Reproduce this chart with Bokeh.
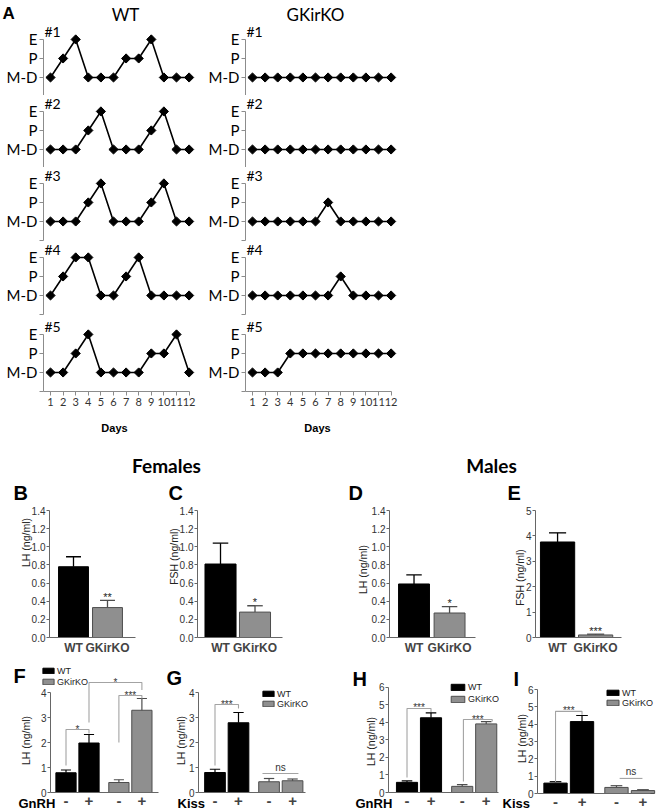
import numpy as np
from bokeh.plotting import figure
from bokeh.layouts import row, column
from bokeh.models import (Label, Range1d, FixedTicker, Legend, LegendItem,
                          NumeralTickFormatter)
from bokeh.core.properties import value
from bokeh.embed import file_html
from bokeh.resources import INLINE

# ---------------- data ----------------
days = [1, 2, 3, 4, 5, 6, 7, 8, 9, 10, 11, 12]
stage_ticks = [-1, 0, 1, 2]
stage_labels = ["", "M-D", "P", "E"]
mouse_ids = ["#1", "#2", "#3", "#4", "#5"]

wt_mouse_1 = [0, 1, 2, 0, 0, 0, 1, 1, 2, 0, 0, 0]
wt_mouse_2 = [0, 0, 0, 1, 2, 0, 0, 0, 1, 2, 0, 0]
wt_mouse_3 = [0, 0, 0, 1, 2, 0, 0, 0, 1, 2, 0, 0]
wt_mouse_4 = [0, 1, 2, 2, 0, 0, 1, 2, 0, 0, 0, 0]
wt_mouse_5 = [0, 0, 1, 2, 0, 0, 0, 0, 1, 1, 2, 0]
ko_mouse_1 = [0, 0, 0, 0, 0, 0, 0, 0, 0, 0, 0, 0]
ko_mouse_2 = [0, 0, 0, 0, 0, 0, 0, 0, 0, 0, 0, 0]
ko_mouse_3 = [0, 0, 0, 0, 0, 0, 1, 0, 0, 0, 0, 0]
ko_mouse_4 = [0, 0, 0, 0, 0, 0, 0, 1, 0, 0, 0, 0]
ko_mouse_5 = [0, 0, 0, 1, 1, 1, 1, 1, 1, 1, 1, 1]

groups = ["WT", "GKirKO"]
fem_lh_mean = [0.78, 0.33]
fem_lh_sem = [0.11, 0.08]
fem_fsh_mean = [0.81, 0.28]
fem_fsh_sem = [0.23, 0.07]
male_lh_mean = [0.59, 0.27]
male_lh_sem = [0.10, 0.07]
male_fsh_mean = [3.76, 0.10]
male_fsh_sem = [0.36, 0.03]
sig_labels = ["**", "*", "*", "***"]

treat_x = [1, 2, 3.3, 4.3]
treat_labels = ["-", "+", "-", "+"]
f_gnrh_wt, f_gnrh_wt_sem = [0.79, 1.98], [0.11, 0.34]
f_gnrh_ko, f_gnrh_ko_sem = [0.40, 3.29], [0.11, 0.47]
f_kiss_wt, f_kiss_wt_sem = [0.80, 2.79], [0.13, 0.41]
f_kiss_ko, f_kiss_ko_sem = [0.43, 0.47], [0.13, 0.07]
m_gnrh_wt, m_gnrh_wt_sem = [0.58, 4.27], [0.08, 0.28]
m_gnrh_ko, m_gnrh_ko_sem = [0.35, 3.92], [0.10, 0.13]
m_kiss_wt, m_kiss_wt_sem = [0.60, 4.15], [0.08, 0.35]
m_kiss_ko, m_kiss_ko_sem = [0.35, 0.17], [0.10, 0.05]

# significance brackets (x left, x right, top, left leg end, right leg end, text)
f_gnrh_br_x0 = [1, 2, 3.3]
f_gnrh_br_x1 = [2, 4.3, 4.3]
f_gnrh_br_top = [2.52, 4.40, 3.88]
f_gnrh_br_lo0 = [1.08, 2.80, 2.00]
f_gnrh_br_lo1 = [2.36, 4.10, 3.76]
f_gnrh_br_txt = ["*", "*", "***"]

f_kiss_br_x0 = [1, 3.02]
f_kiss_br_x1 = [2, 4.55]
f_kiss_br_top = [3.52, 0.76]
f_kiss_br_lo0 = [1.08, 0.76]
f_kiss_br_lo1 = [3.36, 0.76]
f_kiss_br_txt = ["***", "ns"]

m_gnrh_br_x0 = [1, 3.35]
m_gnrh_br_x1 = [2, 4.55]
m_gnrh_br_top = [4.80, 4.17]
m_gnrh_br_lo0 = [0.86, 0.63]
m_gnrh_br_lo1 = [4.60, 4.05]
m_gnrh_br_txt = ["***", "***"]

m_kiss_br_x0 = [1, 3.42]
m_kiss_br_x1 = [2, 4.28]
m_kiss_br_top = [4.74, 0.87]
m_kiss_br_lo0 = [0.64, 0.87]
m_kiss_br_lo1 = [4.55, 0.87]
m_kiss_br_txt = ["***", "ns"]

# ---------------- styles ----------------
GRAY_FILL = "#8f8f8f"
GRAY_LINE = "#4d4d4d"
AX = "#666666"
AXA = "#8c8c8c"
BRC = "#a3a3a3"
SANS = "Liberation Sans"
CAL = "Lato"


def geom(fl, ft, fw, fh, x0, x1, y0, y1):
    return dict(fl=fl, ft=ft, fw=fw, fh=fh, x0=x0, x1=x1, y0=y0, y1=y1)


def p2d(g, px, py):
    x = g["x0"] + (px - g["fl"]) / g["fw"] * (g["x1"] - g["x0"])
    y = g["y1"] - (py - g["ft"]) / g["fh"] * (g["y1"] - g["y0"])
    return x, y


def make_fig(g, fig_left, fig_top, fig_w, fig_h, x_axis=True, y_axis=True):
    X0, Y1 = p2d(g, fig_left, fig_top)
    X1, Y0 = p2d(g, fig_left + fig_w, fig_top + fig_h)
    p = figure(frame_width=fig_w, frame_height=fig_h,
               min_border_left=0, min_border_right=0,
               min_border_top=0, min_border_bottom=0,
               x_range=Range1d(X0, X1), y_range=Range1d(Y0, Y1),
               x_axis_location="below" if x_axis else None,
               y_axis_location="left" if y_axis else None,
               toolbar_location=None, output_backend="svg",
               outline_line_color=None, background_fill_color="white",
               border_fill_color="white")
    p.grid.visible = False
    if x_axis:
        p.xaxis[0].fixed_location = g["y0"]
    if y_axis:
        p.yaxis[0].fixed_location = g["x0"]
    return p


def label(p, g, px, py, text, size, font=SANS, style="normal", align="left",
          baseline="middle", color="black", angle=0):
    x, y = p2d(g, px, py)
    p.add_layout(Label(x=x, y=y, text=text, text_font=font, text_font_size=size,
                       text_font_style=style, text_align=align, angle=angle,
                       text_baseline=baseline, text_color=color))


def style_y(ax, ticks, bounds, fmt=None, lsize="10px"):
    ax.ticker = FixedTicker(ticks=ticks)
    ax.bounds = bounds
    if fmt:
        ax.formatter = NumeralTickFormatter(format=fmt)
    ax.axis_line_color = AX
    ax.major_tick_line_color = AX
    ax.major_tick_out = 3
    ax.major_tick_in = 0
    ax.minor_tick_line_color = None
    ax.major_label_text_font = SANS
    ax.major_label_text_font_size = lsize
    ax.major_label_text_color = "#333333"
    ax.major_label_standoff = 1


# ---------------- panel A ----------------
PXD = 12.6
XA0 = 1 - 7 / PXD
XA1 = XA0 + 153 / PXD
YA0, YA1 = -1, 2.47
A_FRAME_TOPS = [30, 102, 174, 248, 325]
A_TOPS = [0, 95, 167, 241, 318]
A_BOTS = [95, 167, 241, 318, 440]


def cycle_column(series, fig_left, fig_w, frame_left, header, header_px, days_px):
    figs = []
    for k, stages in enumerate(series):
        first, last = k == 0, k == 4
        ft = A_FRAME_TOPS[k]
        g = geom(frame_left, ft, 153, 66, XA0, XA1, YA0, YA1)
        p = make_fig(g, fig_left, A_TOPS[k], fig_w, A_BOTS[k] - A_TOPS[k],
                     x_axis=last)
        p.line(days, stages, line_color="black", line_width=1.6)
        p.scatter(days, stages, marker="square", angle=np.pi / 4, size=6.5,
                  fill_color="black", line_color="black")
        ay = p.yaxis[0]
        ay.ticker = FixedTicker(ticks=stage_ticks)
        ay.major_label_overrides = dict(zip(stage_ticks, stage_labels))
        ay.bounds = (-1, 2)
        ay.axis_line_color = AXA
        ay.major_tick_line_color = AXA
        ay.major_tick_out = 4
        ay.major_tick_in = 0
        ay.minor_tick_line_color = None
        ay.major_label_text_font = CAL
        ay.major_label_text_font_size = "15px"
        ay.major_label_text_color = "black"
        ay.major_label_standoff = 2
        if last:
            ax = p.xaxis[0]
            ax.ticker = FixedTicker(ticks=days)
            ax.bounds = (XA0, 12.0)
            ax.axis_line_color = AXA
            ax.major_tick_line_color = AXA
            ax.major_tick_out = 4
            ax.major_tick_in = 0
            ax.minor_tick_line_color = None
            ax.major_label_text_font = CAL
            ax.major_label_text_font_size = "11px"
            ax.major_label_text_color = "#333333"
            ax.major_label_standoff = 2
            label(p, g, days_px, 427, "Days", "11px", style="bold", align="center")
        label(p, g, frame_left + 1, ft + 1, mouse_ids[k], "14px", font=CAL)
        if first:
            label(p, g, header_px, 14, header, "17px", font=CAL, align="center")
            if fig_left == 0:
                label(p, g, 2, 13, "A", "17px", style="bold")
        figs.append(p)
    return column(*figs)


colA_wt = cycle_column([wt_mouse_1, wt_mouse_2, wt_mouse_3, wt_mouse_4, wt_mouse_5],
                       0, 200, 43, "WT", 125, 114)
colA_ko = cycle_column([ko_mouse_1, ko_mouse_2, ko_mouse_3, ko_mouse_4, ko_mouse_5],
                       200, 460, 245, "GKirKO", 315, 317)
rowA = row(colA_wt, colA_ko)

# ---------------- header (Females / Males) ----------------
hdr = figure(frame_width=660, frame_height=38, x_range=Range1d(0, 660),
             y_range=Range1d(478, 440), x_axis_location=None, y_axis_location=None,
             toolbar_location=None, output_backend="svg", outline_line_color=None,
             min_border_left=0, min_border_right=0, min_border_top=0,
             min_border_bottom=0)
hdr.grid.visible = False
hdr.add_layout(Label(x=166, y=465, text="Females", text_font=CAL, text_font_size="19px",
                     text_font_style="bold", text_align="center", text_baseline="middle",
                     text_color="black"))
hdr.add_layout(Label(x=491, y=465, text="Males", text_font=CAL, text_font_size="19px",
                     text_font_style="bold", text_align="center", text_baseline="middle",
                     text_color="black"))


# ---------------- panels B-E ----------------
def two_bar(means, sems, sig, ylabel, g, fig_left, fig_w, bw, yticks, fmt,
            letter, letter_px, ylab_px, ylab_py):
    p = make_fig(g, fig_left, 478, fig_w, 180)
    ppu = g["fh"] / (g["y1"] - g["y0"])
    xs = [1, 2]
    p.vbar(x=[xs[0]], top=[means[0]], width=bw, fill_color="black", line_color="black")
    p.vbar(x=[xs[1]], top=[means[1]], width=bw, fill_color=GRAY_FILL,
           line_color=GRAY_LINE)
    tops = [m + s for m, s in zip(means, sems)]
    cols = ["black", GRAY_LINE]
    p.segment(x0=xs, y0=means, x1=xs, y1=tops, line_color=cols, line_width=1.3)
    p.segment(x0=[x - bw / 4 for x in xs], y0=tops, x1=[x + bw / 4 for x in xs],
              y1=tops, line_color=cols, line_width=1.3)
    p.text(x=[xs[1]], y=[tops[1] + 3.5 / ppu], text=[sig], text_align="center",
           text_baseline="middle", text_font=value(SANS), text_font_size="11px",
           text_color="#222222")
    style_y(p.yaxis[0], yticks, (g["y0"], g["y1"]), fmt)
    ax = p.xaxis[0]
    ax.ticker = FixedTicker(ticks=xs)
    ax.bounds = (g["x0"], g["x1"])
    ax.major_label_overrides = {1: groups[0], 2: groups[1]}
    ax.axis_line_color = AX
    ax.major_tick_line_color = None
    ax.major_tick_out = 0
    ax.minor_tick_line_color = None
    ax.major_label_text_font = SANS
    ax.major_label_text_font_style = "bold"
    ax.major_label_text_font_size = "12px"
    ax.major_label_standoff = 3
    label(p, g, letter_px, 492, letter, "20px", style="bold")
    label(p, g, ylab_px, ylab_py, ylabel, "10.5px", align="center", color="#222222",
          angle=np.pi / 2)
    return p


gB = geom(49, 510, 86, 127, 0.294, 2.824, 0, 1.4)
gC = geom(197, 510, 85, 127, 0.333, 2.797, 0, 1.4)
gD = geom(389, 510, 86, 127, 0.31, 2.73, 0, 1.4)
gE = geom(535, 510, 86, 127, 0.42, 2.68, 0, 5)
tick14 = [0, 0.2, 0.4, 0.6, 0.8, 1.0, 1.2, 1.4]
tick5 = [0, 1, 2, 3, 4, 5]
pB = two_bar(fem_lh_mean, fem_lh_sem, sig_labels[0], "LH (ng/ml)", gB, 0, 150, 0.88,
             tick14, "0.0", "B", 13, 25, 542)
pC = two_bar(fem_fsh_mean, fem_fsh_sem, sig_labels[1], "FSH (ng/ml)", gC, 150, 180, 0.9,
             tick14, "0.0", "C", 168, 173, 556)
pD = two_bar(male_lh_mean, male_lh_sem, sig_labels[2], "LH (ng/ml)", gD, 330, 150, 0.87,
             tick14, "0.0", "D", 348, 362, 569)
pE = two_bar(male_fsh_mean, male_fsh_sem, sig_labels[3], "FSH (ng/ml)", gE, 480, 180, 0.9,
             tick5, "0", "E", 507, 519, 577)
row2 = row(pB, pC, pD, pE)


# ---------------- panels F-I ----------------
def four_bar(wt_m, wt_s, ko_m, ko_s, treat, g, fig_left, fig_w, ymax_axis,
             bx0, bx1, btop, blo0, blo1, btxt, leg, letter, letter_px, letter_py,
             treat_px, ylab_px, ylab_py):
    p = make_fig(g, fig_left, 658, fig_w, 152)
    ppu = g["fh"] / (g["y1"] - g["y0"])
    bw = 0.88
    wx, kx = treat_x[:2], treat_x[2:]
    r_wt = p.vbar(x=wx, top=wt_m, width=bw, fill_color="black", line_color="black")
    r_ko = p.vbar(x=kx, top=ko_m, width=bw, fill_color=GRAY_FILL, line_color=GRAY_LINE)
    for xs, m, s, c in ((wx, wt_m, wt_s, "black"), (kx, ko_m, ko_s, GRAY_LINE)):
        tops = [a + b for a, b in zip(m, s)]
        p.segment(x0=xs, y0=m, x1=xs, y1=tops, line_color=c, line_width=1.2)
        p.segment(x0=[x - bw / 4 for x in xs], y0=tops, x1=[x + bw / 4 for x in xs],
                  y1=tops, line_color=c, line_width=1.2)
    xsl = [[a, a, b, b] for a, b in zip(bx0, bx1)]
    ysl = [[l0, t, t, l1] for t, l0, l1 in zip(btop, blo0, blo1)]
    p.multi_line(xs=xsl, ys=ysl, line_color=BRC, line_width=1.1)
    for a, b, t, s in zip(bx0, bx1, btop, btxt):
        if s == "ns":
            p.text(x=[(a + b) / 2], y=[t + 1 / ppu], text=[s], text_align="center",
                   text_baseline="bottom", text_font=value(SANS),
                   text_font_size="10px", text_color="#333333")
        else:
            p.text(x=[(a + b) / 2], y=[t + 0.5 / ppu], text=[s], text_align="center",
                   text_baseline="middle", text_font=value(SANS),
                   text_font_size="10px", text_color="#333333")
    style_y(p.yaxis[0], list(range(0, ymax_axis + 1)), (0, ymax_axis))
    ax = p.xaxis[0]
    ax.ticker = FixedTicker(ticks=treat_x)
    ax.bounds = (g["x0"], g["x1"])
    ax.major_label_overrides = dict(zip(treat_x, treat_labels))
    ax.axis_line_color = AX
    ax.major_tick_line_color = None
    ax.major_tick_out = 0
    ax.minor_tick_line_color = None
    ax.major_label_text_font = SANS
    ax.major_label_text_font_style = "bold"
    ax.major_label_text_font_size = "15px"
    ax.major_label_standoff = 3
    dx, dy, gw, gh, sp = leg
    legend = Legend(items=[LegendItem(label=value(groups[0]), renderers=[r_wt]),
                           LegendItem(label=value(groups[1]), renderers=[r_ko])],
                    location=(dx, dy), orientation="vertical", padding=0, margin=0,
                    spacing=sp, glyph_width=gw, glyph_height=gh, label_standoff=2,
                    label_height=gh, label_width=10, label_text_font=SANS,
                    label_text_font_size="9px", label_text_color="#222222",
                    border_line_color=None, background_fill_alpha=0)
    p.add_layout(legend)
    label(p, g, letter_px, letter_py, letter, "20px", style="bold")
    label(p, g, treat_px, 803, treat, "13px", style="bold")
    label(p, g, ylab_px, ylab_py, "LH (ng/ml)", "10.5px", align="center",
          color="#222222", angle=np.pi / 2)
    return p


gF = geom(50, 664, 108, 128, 0.326, 5.022, 0, 5.12)
gG = geom(198, 664, 107, 128, 0.298, 4.851, 0, 5.12)
gH = geom(388, 664, 110, 128, 0.229, 4.812, 0, 7.314)
gI = geom(537, 665, 113, 128, 0.32, 4.584, 0, 7.385)
pF = four_bar(f_gnrh_wt, f_gnrh_wt_sem, f_gnrh_ko, f_gnrh_ko_sem, "GnRH", gF, 0, 162, 4,
              f_gnrh_br_x0, f_gnrh_br_x1, f_gnrh_br_top, f_gnrh_br_lo0, f_gnrh_br_lo1,
              f_gnrh_br_txt, (41, 123.5, 14, 7, 1), "F", 13, 675, 18, 25, 740)
pG = four_bar(f_kiss_wt, f_kiss_wt_sem, f_kiss_ko, f_kiss_ko_sem, "Kiss", gG, 162, 183, 4,
              f_kiss_br_x0, f_kiss_br_x1, f_kiss_br_top, f_kiss_br_lo0, f_kiss_br_lo1,
              f_kiss_br_txt, (99, 101.5, 14, 7, -1), "G", 166, 677, 177, 180, 740)
pH = four_bar(m_gnrh_wt, m_gnrh_wt_sem, m_gnrh_ko, m_gnrh_ko_sem, "GnRH", gH, 345, 156, 6,
              m_gnrh_br_x0, m_gnrh_br_x1, m_gnrh_br_top, m_gnrh_br_lo0, m_gnrh_br_lo1,
              m_gnrh_br_txt, (104, 106.5, 17, 8, 2), "H", 352, 678, 355, 370, 741)
pI = four_bar(m_kiss_wt, m_kiss_wt_sem, m_kiss_ko, m_kiss_ko_sem, "Kiss", gI, 501, 159, 6,
              m_kiss_br_x0, m_kiss_br_x1, m_kiss_br_top, m_kiss_br_lo0, m_kiss_br_lo1,
              m_kiss_br_txt, (104, 102.5, 15, 7, 0), "I", 513, 678, 502, 521, 738)
row3 = row(pF, pG, pH, pI)

layout = column(rowA, hdr, row2, row3)
open("out.html", "w").write(file_html(layout, INLINE))
